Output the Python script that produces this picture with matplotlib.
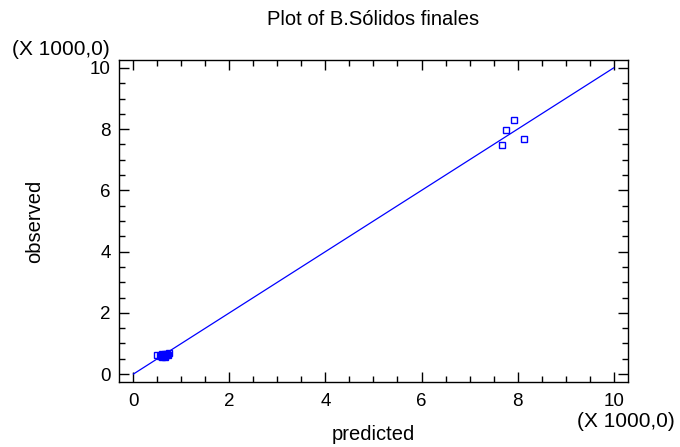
import matplotlib.pyplot as plt
from matplotlib.ticker import MultipleLocator

plt.rcParams['font.family'] = ['Liberation Sans', 'DejaVu Sans']

# predicted vs observed (X 1000)
predicted = [0.50, 0.55, 0.58, 0.60, 0.62, 0.64, 0.66, 0.68, 0.70, 0.72, 0.75, 0.60, 0.65,
             7.68, 7.76, 7.93, 8.13]
observed = [0.62, 0.58, 0.60, 0.56, 0.63, 0.59, 0.65, 0.61, 0.66, 0.63, 0.68, 0.64, 0.57,
            7.48, 7.97, 8.30, 7.68]
line_x = [0, 10]

fig = plt.figure(figsize=(6.8, 4.47), dpi=100)
ax = fig.add_axes([0.175, 0.1454, 0.7485, 0.7204])

ax.plot(line_x, line_x, color='#0000ff', lw=0.9)
ax.plot(predicted, observed, 's', ms=4.5, mfc='none', mec='#0000ff', mew=1.0)

ax.set_xlim(-0.3, 10.3)
ax.set_ylim(-0.26, 10.26)
for a in (ax.xaxis, ax.yaxis):
    a.set_major_locator(MultipleLocator(2))
    a.set_minor_locator(MultipleLocator(0.5))
ax.tick_params(which='both', direction='in', top=True, right=True, labelsize=13.5, width=1)
ax.tick_params(which='major', length=7)
ax.tick_params(which='minor', length=4)
ax.tick_params(axis='x', which='major', pad=8)
ax.tick_params(axis='y', which='major', pad=6)
for s in ax.spines.values():
    s.set_linewidth(1)

cx = 0.175 + 0.7485 / 2
fig.text(cx, 0.944, 'Plot of B.Sólidos finales', fontsize=14.5, ha='center', va='baseline')
fig.text(cx, 0.0157, 'predicted', fontsize=14.5, ha='center', va='baseline')
fig.text(0.051, 0.5055, 'observed', fontsize=14.5, ha='center', va='center', rotation=90)
fig.text(0.017, 0.877, '(X 1000,0)', fontsize=15, ha='left', va='baseline')
fig.text(0.993, 0.0447, '(X 1000,0)', fontsize=15, ha='right', va='baseline')

fig.savefig('out.png', dpi=100)
